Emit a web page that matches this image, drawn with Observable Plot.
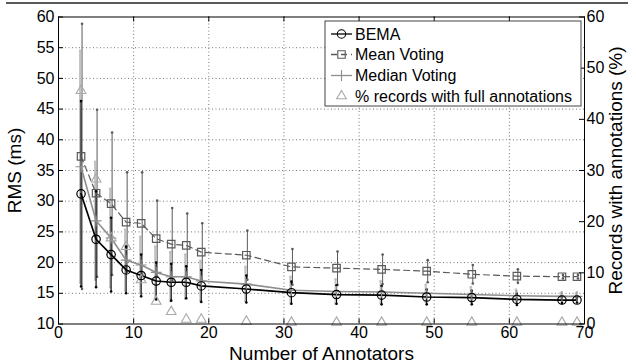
<!DOCTYPE html>
<html>
<head>
<meta charset="utf-8">
<script src="https://cdn.jsdelivr.net/npm/d3@7"></script>
<script src="https://cdn.jsdelivr.net/npm/@observablehq/plot@0.6"></script>
<style>
  html, body { margin: 0; padding: 0; background: white; }
  svg { display: block; }
</style>
</head>
<body>
<div id="chart"></div>
<script>
// ---- data ----
const annotators = [3,5,7,9,11,13,15,17,19,25,31,37,43,49,55,61,67,69];
const bemaRMS    = [31.2,23.8,21.3,18.8,17.9,17.0,16.8,16.8,16.2,15.7,15.1,14.8,14.7,14.4,14.3,14.0,13.9,13.9];
const bemaErr    = [15.1,7.8,6.0,3.8,3.4,3.0,3.0,2.6,2.6,2.2,1.8,1.5,1.5,1.2,1.1,0.9,0.5,0.4];
const meanRMS    = [37.3,31.3,29.6,26.6,26.4,23.9,23.0,22.8,21.7,21.2,19.3,19.1,18.9,18.6,18.1,17.8,17.7,17.7];
const meanErr    = [21.6,13.6,11.6,8.1,8.3,6.2,5.9,5.2,4.7,4.0,2.9,2.7,2.4,1.8,1.5,1.1,0.3,0.3];
const medianRMS  = [35.6,26.8,24.0,20.4,19.6,18.4,17.7,17.7,17.0,16.5,15.5,15.3,15.2,15.0,14.8,14.6,14.5,14.5];
const medianErr  = [18.9,9.6,8.0,5.0,4.6,4.2,4.0,3.6,3.3,2.8,2.2,2.0,1.8,1.4,1.2,1.0,0.6,0.5];
const pctFull    = [45.6,28.3,16.8,15.1,8.6,4.4,2.4,0.9,0.9,0.5,0.3,0.3,0.3,0.3,0.3,0.3,0.3,0.3];

const xTicks = [0,10,20,30,40,50,60,70];
const yTicks = [10,15,20,25,30,35,40,45,50,55,60];
const rightTicks = [0,10,20,30,40,50,60];
const legendLabels = ["BEMA","Mean Voting","Median Voting","% records with full annotations"];
const xTitle = "Number of Annotators";
const yTitle = "RMS (ms)";
const y2Title = "Records with annotations (%)";

// right axis (0..60 %) mapped onto left axis (10..60 ms)
const toLeft = r => 10 + r * 50 / 60;

const idx = annotators.map((_, i) => i);
const C_BEMA = "#000000", C_MEAN = "#5a5a5a", C_MED = "#8e8e8e", C_MED_ERR = "#c2c2c2", C_TRI = "#a8a8a8";
const FONT = "'Liberation Sans', Arial, Helvetica, sans-serif";

function errMarks(vals, errs, color, width, dx) {
  return [
    Plot.ruleX(idx, {x: i => annotators[i], y1: i => vals[i] - errs[i], y2: i => vals[i] + errs[i], stroke: color, strokeWidth: width, dx}),
    Plot.dot(idx, {x: i => annotators[i], y: i => vals[i] - errs[i], r: 1.3, fill: color, stroke: "none", dx}),
    Plot.dot(idx, {x: i => annotators[i], y: i => vals[i] + errs[i], r: 1.3, fill: color, stroke: "none", dx})
  ];
}

const FW = 636 - 58 - 52, FH = 364 - 16.5 - 40.5;

const chart = Plot.plot({
  width: 636,
  height: 364,
  marginLeft: 58,
  marginRight: 52,
  marginTop: 16.5,
  marginBottom: 40.5,
  style: {fontFamily: FONT, fontSize: "16px", color: "black", background: "white"},
  x: {domain: [0, 70], axis: null},
  y: {domain: [10, 60], axis: null},
  marks: [
    // grid
    Plot.ruleX(xTicks.slice(1, -1), {x: d => d, stroke: "#777", strokeWidth: 1, strokeDasharray: "1,2.5"}),
    Plot.ruleY(yTicks.slice(1, -1), {y: d => d, stroke: "#777", strokeWidth: 1, strokeDasharray: "1,2.5"}),
    // error bars
    ...errMarks(medianRMS, medianErr, C_MED_ERR, 2, -1),
    ...errMarks(meanRMS, meanErr, C_MEAN, 1, 1),
    ...errMarks(bemaRMS, bemaErr, C_BEMA, 1.1, 0),
    // lines
    Plot.line(idx, {x: i => annotators[i], y: i => medianRMS[i], stroke: C_MED, strokeWidth: 1.6}),
    Plot.line(idx, {x: i => annotators[i], y: i => meanRMS[i], stroke: C_MEAN, strokeWidth: 1.2, strokeDasharray: "6,4"}),
    Plot.line(idx, {x: i => annotators[i], y: i => bemaRMS[i], stroke: C_BEMA, strokeWidth: 1.7}),
    // markers
    Plot.dot(idx, {x: i => annotators[i], y: i => toLeft(pctFull[i]), symbol: "triangle", r: 3.6, stroke: C_TRI, fill: "none", strokeWidth: 1.1}),
    Plot.dot(idx, {x: i => annotators[i], y: i => medianRMS[i], symbol: "plus", r: 3.6, stroke: C_MED, fill: "none", strokeWidth: 1.1}),
    Plot.dot(idx, {x: i => annotators[i], y: i => meanRMS[i], symbol: "square", r: 4.2, stroke: C_MEAN, fill: "none", strokeWidth: 1.2}),
    Plot.dot(idx, {x: i => annotators[i], y: i => bemaRMS[i], symbol: "circle", r: 4.2, stroke: C_BEMA, fill: "none", strokeWidth: 1.2}),
    // frame
    Plot.frame({stroke: "black", strokeWidth: 1}),
    // inward ticks
    Plot.tickX(xTicks, {x: d => d, insetTop: FH - 5, stroke: "black"}),
    Plot.tickX(xTicks, {x: d => d, insetBottom: FH - 5, stroke: "black"}),
    Plot.tickY(yTicks, {y: d => d, insetRight: FW - 5, stroke: "black"}),
    Plot.tickY(rightTicks, {y: d => toLeft(d), insetLeft: FW - 5, stroke: "black"}),
    // tick labels
    Plot.text(xTicks, {x: d => d, text: d => String(d), frameAnchor: "bottom", lineAnchor: "top", textAnchor: "middle", dy: 3, fontSize: 16}),
    Plot.text(yTicks, {y: d => d, text: d => String(d), frameAnchor: "left", lineAnchor: "middle", textAnchor: "end", dx: -4, fontSize: 16}),
    Plot.text(rightTicks, {y: d => toLeft(d), text: d => String(d), frameAnchor: "right", lineAnchor: "middle", textAnchor: "start", dx: 2, fontSize: 16}),
    // titles
    Plot.text([xTitle], {text: d => d, frameAnchor: "bottom", textAnchor: "middle", lineAnchor: "middle", dy: 29.5, fontSize: 19}),
    Plot.text([yTitle], {text: d => d, frameAnchor: "left", textAnchor: "middle", lineAnchor: "middle", rotate: -90, dx: -44, fontSize: 19}),
    Plot.text([y2Title], {text: d => d, frameAnchor: "right", textAnchor: "middle", lineAnchor: "middle", rotate: -90, dx: 31, fontSize: 19})
  ]
});

document.getElementById("chart").appendChild(chart);

// decorations: top rule and legend
const svg = d3.select(chart);
svg.append("line").attr("x1", 6).attr("x2", 628).attr("y1", 3).attr("y2", 3)
  .attr("stroke", "#222").attr("stroke-width", 1.6);

const lg = svg.append("g").attr("font-family", FONT).attr("font-size", 16).attr("text-anchor", "start");
lg.append("rect").attr("x", 325).attr("y", 21).attr("width", 256).attr("height", 85)
  .attr("fill", "white").attr("stroke", "#444").attr("stroke-width", 1);

const rowsY = [34, 54.5, 75.5, 96];
const styles = [
  {color: C_BEMA, line: true, dash: null, sym: d3.symbolCircle, r: 4.2},
  {color: C_MEAN, line: true, dash: "6,4", sym: d3.symbolSquare, r: 4.2},
  {color: C_MED, line: true, dash: null, sym: d3.symbolPlus, r: 3.6},
  {color: C_TRI, line: false, dash: null, sym: d3.symbolTriangle, r: 3.6}
];
legendLabels.forEach((lab, k) => {
  const s = styles[k], y = rowsY[k];
  if (s.line) {
    lg.append("line").attr("x1", 331).attr("x2", 352).attr("y1", y).attr("y2", y)
      .attr("stroke", s.color).attr("stroke-width", 1.3).attr("stroke-dasharray", s.dash);
  }
  lg.append("path").attr("transform", `translate(341.5,${y})`)
    .attr("d", d3.symbol(s.sym, Math.PI * s.r * s.r)())
    .attr("fill", "none").attr("stroke", s.color).attr("stroke-width", 1.1);
  lg.append("text").attr("x", 355).attr("y", y).attr("dy", "0.35em").attr("fill", "black").text(lab);
});
</script>
</body>
</html>
